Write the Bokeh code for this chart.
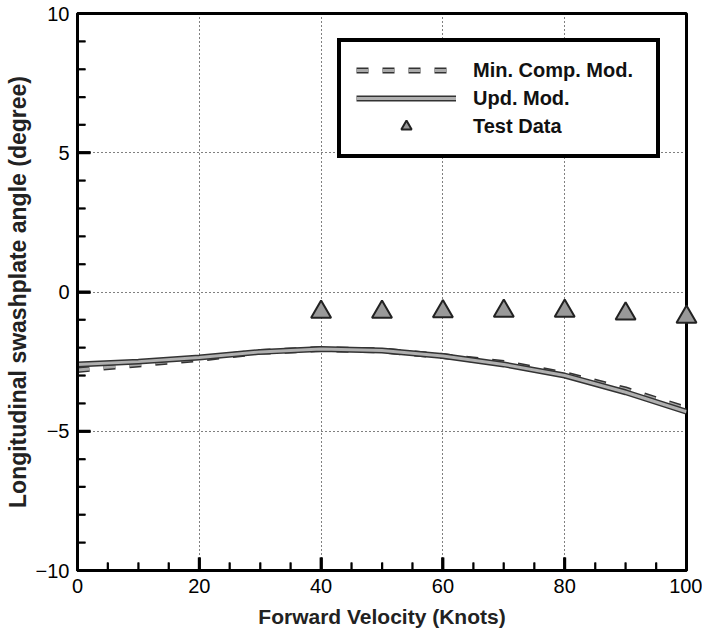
from bokeh.plotting import figure
from bokeh.models import Legend, LegendItem, FixedTicker, Range1d
from bokeh.embed import file_html
from bokeh.resources import INLINE

# Data
vel = [0, 10, 20, 30, 40, 50, 60, 70, 80, 90, 100]
upd_mod = [-2.6, -2.5, -2.35, -2.15, -2.05, -2.1, -2.3, -2.6, -3.0, -3.6, -4.3]
min_comp = [-2.8, -2.6, -2.4, -2.15, -2.05, -2.1, -2.3, -2.55, -2.95, -3.5, -4.2]
test_v = [40, 50, 60, 70, 80, 90, 100]
test_ang = [-0.72, -0.72, -0.7, -0.68, -0.68, -0.78, -0.9]

x_ticks = [0, 20, 40, 60, 80, 100]
y_ticks = [-10, -5, 0, 5, 10]
x_minor = [v for v in range(0, 101, 5) if v not in x_ticks]
y_minor = [v for v in range(-10, 11, 1) if v not in y_ticks]

X0, X1, Y0, Y1 = 0, 100, -10, 10
W, H = 702, 635
BL, BR, BT, BB = 77, 16, 13, 65

p = figure(width=W, height=H, output_backend="svg", toolbar_location=None,
           x_range=Range1d(X0, X1), y_range=Range1d(Y0, Y1),
           min_border_left=BL, min_border_right=BR, min_border_top=BT, min_border_bottom=BB)
p.background_fill_color = "white"
p.border_fill_color = "white"
p.outline_line_color = "black"
p.outline_line_alpha = 1
p.outline_line_width = 3

for ax in (p.xaxis[0], p.yaxis[0]):
    ax.axis_line_width = 3
    ax.axis_line_color = "black"
    ax.major_tick_in = 13
    ax.major_tick_out = 0
    ax.minor_tick_in = 8
    ax.minor_tick_out = 0
    ax.major_tick_line_width = 2.5
    ax.minor_tick_line_width = 1.5
    ax.major_tick_line_color = "black"
    ax.minor_tick_line_color = "black"
    ax.major_label_text_font = "Liberation Sans"
    ax.major_label_text_font_size = "20px"
    ax.major_label_text_color = "black"
    ax.axis_label_text_font = "Liberation Sans"
    ax.axis_label_text_font_style = "bold"
    ax.axis_label_text_color = "#222222"

p.xaxis.axis_label_text_font_size = "21px"
p.yaxis.axis_label_text_font_size = "23px"
p.xaxis.ticker = FixedTicker(ticks=x_ticks, minor_ticks=x_minor)
p.yaxis.ticker = FixedTicker(ticks=y_ticks, minor_ticks=y_minor)
p.xaxis.axis_label = "Forward Velocity (Knots)"
p.yaxis.axis_label = "Longitudinal swashplate angle (degree)"
p.xaxis.major_label_standoff = 8
p.yaxis.major_label_standoff = 8
p.xaxis.axis_label_standoff = 9
p.yaxis.axis_label_standoff = 2

p.xgrid.ticker = FixedTicker(ticks=[20, 40, 60, 80])
p.ygrid.ticker = FixedTicker(ticks=[-5, 0, 5])
for g in (p.xgrid[0], p.ygrid[0]):
    g.grid_line_color = "black"
    g.grid_line_alpha = 1
    g.grid_line_dash = "1 3"
    g.grid_line_width = 1

# inward tick marks as glyphs too (length in pixels converted to data units)
px_x = (X1 - X0) / (W - BL - BR)
px_y = (Y1 - Y0) / (H - BT - BB)
MAJ, MIN = 13, 8
p.segment(x0=x_ticks, y0=[Y0] * len(x_ticks), x1=x_ticks,
          y1=[Y0 + MAJ * px_y] * len(x_ticks), line_color="black", line_width=3,
          level="overlay")
p.segment(x0=x_minor, y0=[Y0] * len(x_minor), x1=x_minor,
          y1=[Y0 + MIN * px_y] * len(x_minor), line_color="black", line_width=2,
          level="overlay")
p.segment(x0=[X0] * len(y_ticks), y0=y_ticks, x1=[X0 + MAJ * px_x] * len(y_ticks),
          y1=y_ticks, line_color="black", line_width=3, level="overlay")
p.segment(x0=[X0] * len(y_minor), y0=y_minor, x1=[X0 + MIN * px_x] * len(y_minor),
          y1=y_minor, line_color="black", line_width=2, level="overlay")

# Lines
r_min_o = p.line(vel, min_comp, line_color="#333333", line_width=6, line_dash="12 14")
r_min_i = p.line(vel, min_comp, line_color="#aaaaaa", line_width=3, line_dash="12 14")
r_upd_o = p.line(vel, upd_mod, line_color="#333333", line_width=6)
r_upd_i = p.line(vel, upd_mod, line_color="#b0b0b0", line_width=3)
r_test = p.scatter(test_v, test_ang, marker="triangle", size=20,
                   fill_color="#999999", line_color="#222222", line_width=2,
                   level="overlay")

legend = Legend(items=[
    LegendItem(label="Min. Comp. Mod.", renderers=[r_min_o, r_min_i]),
    LegendItem(label="Upd. Mod.", renderers=[r_upd_o, r_upd_i]),
    LegendItem(label="Test Data", renderers=[r_test]),
], location=(260, 412))
legend.border_line_color = "black"
legend.border_line_alpha = 1
legend.border_line_width = 4
legend.background_fill_color = "white"
legend.background_fill_alpha = 1
legend.label_text_font = "Liberation Sans"
legend.label_text_font_style = "bold"
legend.label_text_font_size = "20px"
legend.label_text_color = "#111111"
legend.glyph_width = 100
legend.glyph_height = 26
legend.label_width = 168
legend.label_height = 26
legend.padding = 15
legend.spacing = 2
legend.margin = 0
legend.label_standoff = 17
p.add_layout(legend, "center")

open("out.html", "w").write(file_html(p, INLINE))
